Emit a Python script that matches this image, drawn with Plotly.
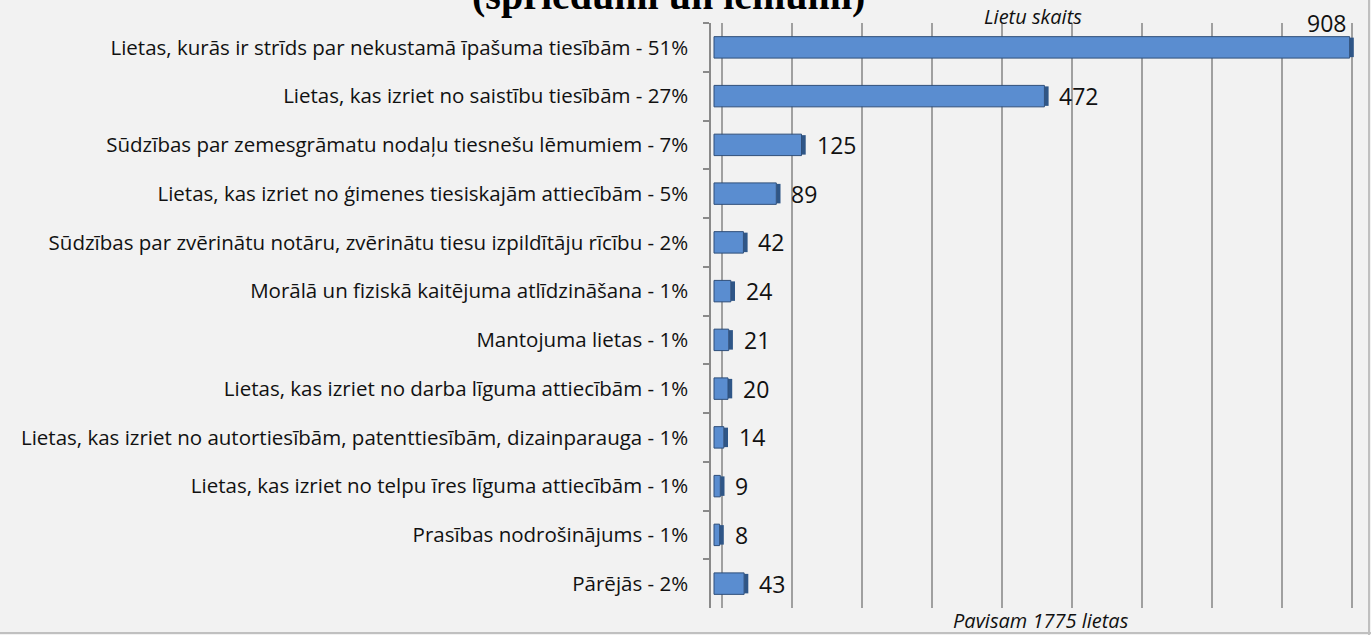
import plotly.graph_objects as go

categories = [
    "Lietas, kurās ir strīds par nekustamā īpašuma tiesībām - 51%",
    "Lietas, kas izriet no saistību tiesībām - 27%",
    "Sūdzības par zemesgrāmatu nodaļu tiesnešu lēmumiem - 7%",
    "Lietas, kas izriet no ģimenes tiesiskajām attiecībām - 5%",
    "Sūdzības par zvērinātu notāru, zvērinātu tiesu izpildītāju rīcību - 2%",
    "Morālā un fiziskā kaitējuma atlīdzināšana - 1%",
    "Mantojuma lietas - 1%",
    "Lietas, kas izriet no darba līguma attiecībām - 1%",
    "Lietas, kas izriet no autortiesībām, patenttiesībām, dizainparauga - 1%",
    "Lietas, kas izriet no telpu īres līguma attiecībām - 1%",
    "Prasības nodrošinājums - 1%",
    "Pārējās - 2%",
]
values = [908, 472, 125, 89, 42, 24, 21, 20, 14, 9, 8, 43]

title_text = "(spriedumi un lēmumi)"
top_title = "Lietu skaits"
bottom_title = "Pavisam 1775 lietas"

LABEL_FONT = "Open Sans"
BG = "#f2f2f2"

W, H = 1371, 635
ml, mr, mt, mb = 711, 9, 23, 27
pw, ph = W - ml - mr, H - mt - mb

fig = go.Figure()
# side face (3D look)
fig.add_trace(go.Bar(
    y=categories, x=[6] * len(values), base=values, orientation="h",
    width=0.40, marker=dict(color="#2f5687", line=dict(width=0)),
    hoverinfo="skip", showlegend=False,
))
fig.add_trace(go.Bar(
    y=categories, x=values, orientation="h", width=0.44,
    marker=dict(color="#5a8dd0", line=dict(color="#2f4f7a", width=1)),
    showlegend=False,
))

annotations = []
for cat, v in zip(categories, values):
    if v == max(values):
        annotations.append(dict(x=v, y=cat, xref="x", yref="y", text=str(v),
                                showarrow=False, xanchor="right", yanchor="middle",
                                xshift=-2, yshift=24,
                                font=dict(family=LABEL_FONT, size=23, color="#111")))
    else:
        annotations.append(dict(x=v, y=cat, xref="x", yref="y", text=str(v),
                                showarrow=False, xanchor="left", yanchor="middle",
                                xshift=13, yshift=0,
                                font=dict(family=LABEL_FONT, size=23, color="#111")))

annotations.append(dict(x=(1033 - ml) / pw, y=1.0, xref="paper", yref="paper", text=top_title,
                        showarrow=False, xanchor="center", yanchor="bottom", yshift=-9,
                        font=dict(family=LABEL_FONT, size=20, color="#111", style="italic")))
annotations.append(dict(x=(1041 - ml) / pw, y=0.0, xref="paper", yref="paper", text=bottom_title,
                        showarrow=False, xanchor="center", yanchor="top", yshift=3,
                        font=dict(family=LABEL_FONT, size=20, color="#111", style="italic")))
annotations.append(dict(x=(668 - ml) / pw, y=(H - mb - 20) / ph, xref="paper", yref="paper",
                        text="<b>" + title_text + "</b>",
                        showarrow=False, xanchor="center", yanchor="bottom",
                        font=dict(family="Liberation Serif", size=40, color="#000")))

fig.update_layout(
    width=W, height=H,
    margin=dict(l=ml, r=mr, t=mt, b=mb),
    paper_bgcolor=BG, plot_bgcolor=BG,
    barmode="overlay",
    annotations=annotations,
    xaxis=dict(range=[-4.3, 925.7], showticklabels=False, ticks="",
               showgrid=True, gridcolor="#a0a0a0", gridwidth=1.5,
               tick0=11, dtick=100, zeroline=False, showline=False, fixedrange=True),
    yaxis=dict(autorange="reversed", type="category", showline=True, linecolor="#8a8a8a",
               linewidth=1.5, ticks="outside", tickson="boundaries", ticklen=6,
               tickcolor="#8a8a8a", tickwidth=1.5, ticklabelstandoff=17,
               tickfont=dict(family=LABEL_FONT, size=20.5, color="#111"), showgrid=False),
    shapes=[
        dict(type="line", xref="paper", yref="paper", x0=(1369 - ml) / pw, x1=(1369 - ml) / pw,
             y0=(H - mb - H) / ph, y1=(H - mb) / ph + 0.1, line=dict(color="#c0c0c0", width=2)),
        dict(type="line", xref="paper", yref="paper", x0=-ml / pw, x1=(W - ml) / pw,
             y0=(H - mb - 633) / ph, y1=(H - mb - 633) / ph, line=dict(color="#c0c0c0", width=2)),
    ],
)

fig.write_html("out.html", config={"displayModeBar": False},
               post_script="document.body.style.margin='0';document.body.style.background='#f2f2f2';window.dispatchEvent(new Event('resize'));")
